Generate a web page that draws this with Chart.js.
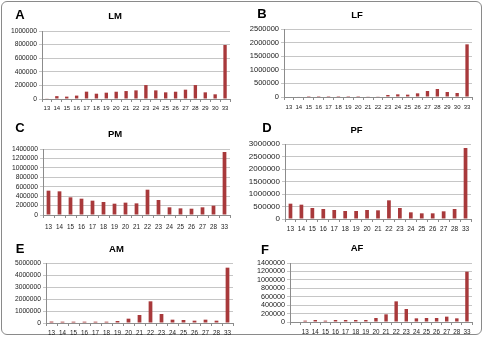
<!DOCTYPE html>
<html><head><meta charset="utf-8">
<script src="https://cdn.jsdelivr.net/npm/chart.js@4/dist/chart.umd.min.js"></script>
<style>
html,body{margin:0;padding:0;background:#fff;}
#wrap{position:relative;width:484px;height:337px;overflow:hidden;background:#fff;}
#frame{position:absolute;left:1px;top:1px;width:479px;height:332px;border:1px solid #8a8a8a;border-radius:6px;}
canvas{position:absolute;}
.lt{position:absolute;font:bold 13px "Liberation Sans",Arial,sans-serif;color:#000;transform:translate(-50%,-50%);line-height:1;}
</style></head>
<body><div id="wrap"><div id="frame"></div>
<canvas id="cA"></canvas><canvas id="cB"></canvas><canvas id="cC"></canvas>
<canvas id="cD"></canvas><canvas id="cE"></canvas><canvas id="cF"></canvas>
<div class="lt" style="left:20px;top:14px">A</div>
<div class="lt" style="left:262px;top:13px">B</div>
<div class="lt" style="left:20px;top:127px">C</div>
<div class="lt" style="left:267px;top:127px">D</div>
<div class="lt" style="left:20px;top:248px">E</div>
<div class="lt" style="left:265px;top:249px">F</div>
</div>
<script>
// categories
const catsLM = ['13','14','15','16','17','18','19','20','21','22','23','24','25','26','27','28','29','30','33'];
const catsLF = ['13','14','15','16','17','18','19','20','21','22','23','24','25','26','27','28','29','30','33'];
const catsPM = ['13','14','15','16','17','18','19','20','21','22','23','24','25','26','27','28','33'];
const catsPF = ['13','14','15','16','17','18','19','20','21','22','23','24','25','26','27','28','33'];
const catsAM = ['13','14','15','16','17','18','19','20','21','22','23','24','25','26','27','28','33'];
const catsAF = ['','13','14','15','16','17','18','19','20','21','22','23','24','25','26','27','28','33'];
// series values
const valsLM = [5000,42000,35000,50000,108000,78000,93000,107000,117000,127000,205000,127000,98000,107000,137000,205000,98000,69000,794000];
const valsLF = [0,20000,3000,3000,3000,3000,3000,3000,25000,25000,73000,98000,86000,135000,220000,294000,184000,147000,1936000];
const valsPM = [516000,502000,375000,346000,304000,276000,240000,262000,247000,537000,318000,163000,141000,134000,163000,198000,1336000];
const valsPF = [613000,573000,440000,400000,360000,320000,320000,360000,347000,747000,440000,267000,227000,227000,307000,400000,2840000];
const valsAM = [120000,110000,110000,110000,110000,110000,167000,361000,667000,1806000,750000,278000,250000,194000,278000,194000,4611000];
const valsAF = [null,32000,47000,32000,47000,47000,47000,47000,95000,182000,490000,308000,87000,95000,95000,127000,87000,1194000];
// axis settings
const titles = ['LM','LF','PM','PF','AM','AF'];
const yMax = [1000000,2500000,1400000,3000000,5000000,1400000];
const yStep = [200000,500000,200000,500000,1000000,200000];

const FONT = '"Liberation Sans", Arial, sans-serif';
const BAR = '#A8393B';

function panel(id, left, top, W, H, labels, values, title, max, step, g) {
  const cv = document.getElementById(id);
  cv.width = W; cv.height = H;
  cv.style.left = left + 'px'; cv.style.top = top + 'px';
  cv.style.width = W + 'px'; cv.style.height = H + 'px';
  const tfs = 9.5, tlh = tfs * 1.2;
  const tPadTop = g.ty - tlh / 2;
  const tPadBot = g.t - (g.ty + tlh / 2);
  const xPad = g.xy - g.b - 3 - 0.6 * g.xf;
  new Chart(cv, {
    type: 'bar',
    data: { labels: labels, datasets: [{ data: values, backgroundColor: BAR, barPercentage: 0.34, categoryPercentage: 1 }] },
    options: {
      responsive: false, animation: false, devicePixelRatio: 1,
      layout: { padding: { left: 0, top: 0, bottom: 0, right: W - g.r } },
      plugins: {
        legend: { display: false }, tooltip: { enabled: false },
        title: { display: true, text: title, color: '#000', font: { family: FONT, size: tfs, weight: 'bold' }, padding: { top: tPadTop, bottom: tPadBot } }
      },
      scales: {
        x: {
          grid: { display: true, drawOnChartArea: false, drawTicks: true, tickLength: 3, color: '#8c8c8c', offset: true },
          border: { display: true, color: '#8c8c8c' },
          ticks: { color: '#222', font: { family: FONT, size: g.xf }, padding: xPad, maxRotation: 0, minRotation: 0, autoSkip: false },
          afterFit: s => { s.height = H - g.b; }
        },
        y: {
          min: 0, max: max,
          grid: { color: '#c6c6c6', tickLength: 3, drawTicks: true },
          border: { display: true, color: '#8c8c8c' },
          ticks: { stepSize: step, autoSkip: false, color: '#222', font: { family: FONT, size: g.yf }, padding: 2, callback: v => String(v) },
          afterFit: s => { s.width = g.l; }
        }
      }
    }
  });
}

panel('cA', 0, 0, 242, 114, catsLM, valsLM, titles[0], yMax[0], yStep[0], {l:42, r:230, t:31, b:99, ty:16, xy:108, yf:6.7, xf:6});
panel('cB', 242, 0, 242, 114, catsLF, valsLF, titles[1], yMax[1], yStep[1], {l:42, r:230, t:29, b:97, ty:15, xy:107.7, yf:7.5, xf:6});
panel('cC', 0, 112, 242, 125, catsPM, valsPM, titles[2], yMax[2], yStep[2], {l:43, r:230, t:37, b:103, ty:22, xy:115.5, yf:6.7, xf:6.3});
panel('cD', 242, 112, 242, 125, catsPF, valsPF, titles[3], yMax[3], yStep[3], {l:43, r:229, t:32, b:107, ty:18, xy:117, yf:8, xf:6.5});
panel('cE', 0, 224, 242, 113, catsAM, valsAM, titles[4], yMax[4], yStep[4], {l:46, r:233, t:39, b:99, ty:25, xy:109, yf:6.7, xf:6.3});
panel('cF', 242, 224, 242, 113, catsAF, valsAF, titles[5], yMax[5], yStep[5], {l:48, r:230, t:39, b:98, ty:24, xy:108, yf:7.2, xf:6.3});
</script>
</body></html>
